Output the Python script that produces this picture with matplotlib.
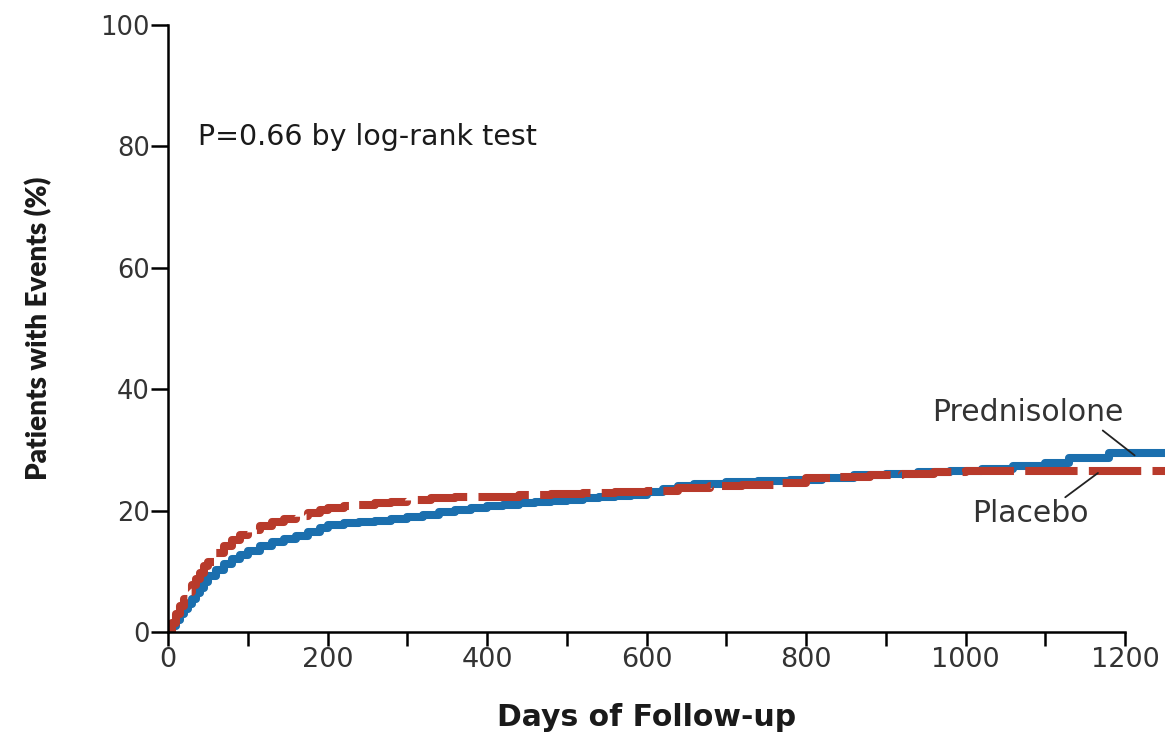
import matplotlib
matplotlib.use("Agg")
import matplotlib.pyplot as plt

# ---- data ----
pred_days = [0, 5, 10, 15, 20, 25, 30, 35, 40, 45, 50, 60, 70, 80, 90, 100, 115, 130, 145,
             160, 175, 190, 200, 220, 240, 260, 280, 300, 320, 340, 360, 380, 400, 420, 440,
             460, 480, 500, 520, 540, 560, 580, 600, 620, 640, 660, 700, 740, 780, 820, 860,
             900, 940, 980, 1020, 1060, 1100, 1130, 1180, 1250]
pred_pct = [0, 1.0, 2.0, 3.0, 3.8, 4.6, 5.5, 6.4, 7.3, 8.3, 9.2, 10.3, 11.2, 12.0, 12.7, 13.4,
            14.2, 14.8, 15.3, 15.8, 16.5, 17.2, 17.7, 17.9, 18.1, 18.3, 18.6, 18.9, 19.3, 19.7,
            20.1, 20.4, 20.7, 21.0, 21.2, 21.4, 21.6, 21.8, 22.0, 22.2, 22.4, 22.6, 23.0, 23.5,
            24.0, 24.4, 24.7, 24.9, 25.1, 25.4, 25.8, 26.1, 26.4, 26.6, 26.9, 27.4, 27.8, 28.6,
            29.5, 29.5]

plac_days = [0, 5, 10, 15, 20, 25, 30, 35, 40, 45, 50, 60, 70, 80, 90, 100, 115, 130, 145,
             160, 175, 190, 200, 220, 240, 260, 280, 300, 330, 360, 400, 440, 480, 520, 560,
             600, 640, 680, 720, 760, 800, 840, 880, 920, 960, 1000, 1250]
plac_pct = [0, 1.5, 3.0, 4.3, 5.5, 6.6, 7.7, 8.8, 9.8, 10.8, 11.6, 13.0, 14.2, 15.2, 16.0, 16.8,
            17.5, 18.1, 18.6, 19.1, 19.6, 20.1, 20.4, 20.7, 21.0, 21.2, 21.5, 21.8, 22.0, 22.2,
            22.3, 22.5, 22.7, 22.9, 23.0, 23.3, 23.8, 24.0, 24.2, 24.6, 25.3, 25.6, 25.9, 26.1,
            26.3, 26.5, 26.6]

x_ticks = [0, 100, 200, 300, 400, 500, 600, 700, 800, 900, 1000, 1100, 1200]
x_labels = ["0", "", "200", "", "400", "", "600", "", "800", "", "1000", "", "1200"]
y_ticks = [0, 20, 40, 60, 80, 100]
y_labels = ["0", "20", "40", "60", "80", "100"]

BLUE = "#1b6fae"
RED = "#b83a2b"
WIDE = "DejaVu Sans"

fig = plt.figure(figsize=(11.76, 7.35), dpi=100)
ax = fig.add_axes([0.1429, 0.1401, 0.8477, 0.8259])

ax.plot(pred_days, pred_pct, drawstyle="steps-post", color=BLUE, lw=5.8,
        solid_capstyle="butt")
ax.plot(plac_days, plac_pct, drawstyle="steps-post", color=RED, lw=5.8,
        dashes=(6.5, 1.4), dash_capstyle="butt")

ax.set_xlim(0, 1250)
ax.set_ylim(0, 100)

for s in ["top", "right"]:
    ax.spines[s].set_visible(False)
ax.spines["left"].set_bounds(0, 100)
ax.spines["bottom"].set_bounds(0, 1200)
for s in ["left", "bottom"]:
    ax.spines[s].set_linewidth(1.8)
    ax.spines[s].set_color("black")

ax.set_xticks(x_ticks)
ax.set_xticklabels(x_labels, fontfamily=WIDE, fontsize=19.5, color="#333333")
ax.set_yticks(y_ticks)
ax.set_yticklabels(y_labels, fontfamily=WIDE, fontsize=18.5, color="#333333")
ax.tick_params(axis="x", direction="out", length=10, width=1.8, color="black", pad=1)
ax.tick_params(axis="y", direction="out", length=12, width=1.8, color="black", pad=1)

ax.set_xlabel("Days of Follow-up", fontfamily=WIDE, fontsize=21.5, fontweight="bold",
              color="#1a1a1a", va="center")
ax.xaxis.set_label_coords(600 / 1250, -0.141)
ax.set_ylabel("Patients with Events (%)", fontfamily="Lato", fontsize=20, fontweight="heavy",
              color="#1a1a1a", va="center")
ax.yaxis.set_label_coords(-0.130, 0.50)

ax.text(37, 81.5, "P=0.66 by log-rank test", fontfamily=WIDE, fontsize=20.5,
        color="#1a1a1a", va="center", ha="left")

ax.text(1078, 36.1, "Prednisolone", fontfamily=WIDE, fontsize=21.5, color="#333333",
        ha="center", va="center")
ax.text(1081, 19.6, "Placebo", fontfamily=WIDE, fontsize=21.5, color="#333333",
        ha="center", va="center")
ax.annotate("", xy=(1212, 29.1), xytext=(1172, 33.2),
            arrowprops=dict(arrowstyle="-", color="#222222", lw=1.3, shrinkA=0, shrinkB=0))
ax.annotate("", xy=(1166, 26.2), xytext=(1125, 22.2),
            arrowprops=dict(arrowstyle="-", color="#222222", lw=1.3, shrinkA=0, shrinkB=0))

fig.savefig("out.png", dpi=100)
